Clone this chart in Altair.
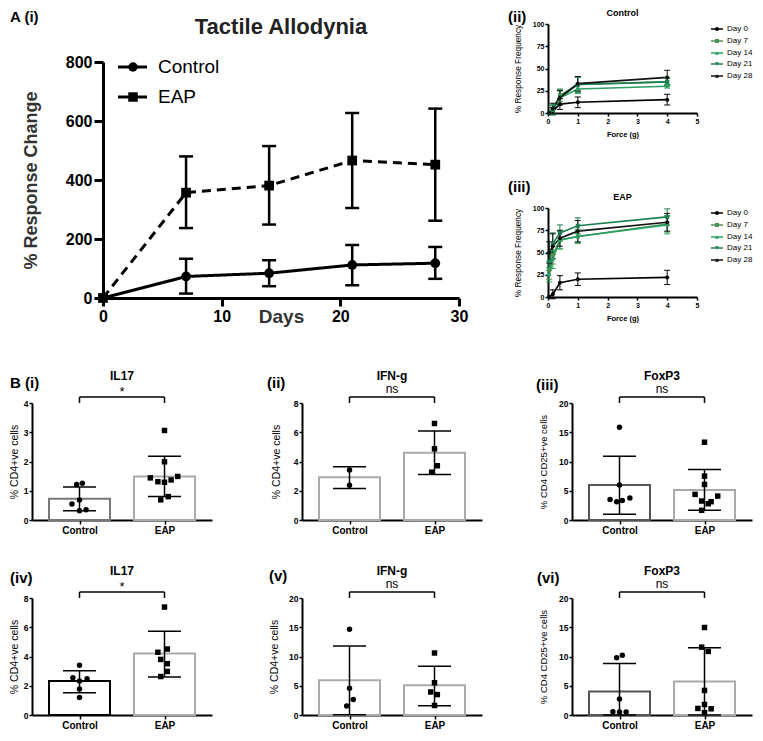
import altair as alt
import pandas as pd

FONT = "Liberation Sans"

# ---------------- A(i) Tactile Allodynia ----------------
DAYS = [0, 7, 14, 21, 28]
GROUPS = ["Control", "EAP"]
CTRL_MEAN = [0, 73, 84, 112, 118]
CTRL_LO = [0, 15, 40, 43, 65]
CTRL_HI = [0, 133, 128, 180, 173]
EAP_MEAN = [0, 357, 381, 466, 452]
EAP_LO = [0, 237, 249, 305, 262]
EAP_HI = [0, 480, 515, 627, 642]

# ---------------- A(ii)/(iii) response frequency ----------------
FORCES = [0.04, 0.16, 0.4, 1, 4]
DAY_LABELS = ["Day 0", "Day 7", "Day 14", "Day 21", "Day 28"]
CTRL_FREQ = [
    [0, 2, 10, 12, 15],
    [0, 4, 20, 32, 35],
    [0, 3, 17, 27, 30],
    [0, 4, 18, 32, 35],
    [0, 5, 17, 33, 40],
]
CTRL_FREQ_ERR = [
    [0, 4, 6, 6, 6],
    [0, 6, 7, 9, 5],
    [0, 5, 8, 5, 2],
    [0, 5, 8, 8, 4],
    [0, 6, 8, 8, 8],
]
EAP_FREQ = [
    [0, 3, 16, 20, 22],
    [30, 47, 64, 68, 82],
    [25, 42, 64, 68, 81],
    [40, 60, 72, 80, 90],
    [50, 57, 66, 74, 84],
]
EAP_FREQ_ERR = [
    [0, 5, 8, 7, 8],
    [10, 10, 10, 8, 9],
    [8, 10, 10, 7, 10],
    [10, 12, 9, 9, 9],
    [12, 14, 9, 12, 10],
]
DAY_COLORS = ["#000000", "#4d9150", "#2ca064", "#1b7f52", "#111111"]
DAY_SHAPES = ["circle", "square", "triangle-up", "triangle-down", "triangle-up"]

# ---------------- B bar panels ----------------
# (mean, lo, hi) for Control and EAP, individual points
P1_CTRL = [0.73, 0.32, 1.13]
P1_EAP = [1.49, 0.80, 2.18]
P1_CTRL_PTS = [1.21, 1.26, 0.55, 0.68, 0.32, 0.35]
P1_EAP_PTS = [3.06, 1.99, 1.44, 1.31, 1.29, 1.37, 1.49, 0.69, 0.80]

P2_CTRL = [2.93, 2.16, 3.64]
P2_EAP = [4.60, 3.11, 6.09]
P2_CTRL_PTS = [3.42, 2.38]
P2_EAP_PTS = [6.60, 4.87, 3.71, 3.27]

P3_CTRL = [5.97, 0.97, 10.9]
P3_EAP = [5.11, 1.65, 8.64]
P3_CTRL_PTS = [15.85, 5.97, 3.52, 3.13, 3.35, 3.75]
P3_EAP_PTS = [13.3, 7.5, 6.08, 4.38, 4.09, 3.24, 3.13, 2.78, 1.65]

P4_CTRL = [2.32, 1.52, 3.03]
P4_EAP = [4.20, 2.59, 5.72]
P4_CTRL_PTS = [3.40, 2.54, 2.48, 2.32, 1.77, 1.19]
P4_EAP_PTS = [7.38, 4.51, 4.29, 3.80, 3.51, 2.98, 2.63]

P5_CTRL = [5.92, 0.05, 11.8]
P5_EAP = [5.07, 1.58, 8.34]
P5_CTRL_PTS = [14.65, 4.56, 2.65, 1.52]
P5_EAP_PTS = [10.6, 5.52, 3.94, 3.49, 1.63]

P6_CTRL = [4.03, 0.0, 8.8]
P6_EAP = [5.71, 0.0, 11.5]
P6_CTRL_PTS = [9.8, 10.2, 2.74, 0.56, 0.5, 0.5]
P6_EAP_PTS = [14.96, 11.6, 10.87, 4.2, 1.79, 1.12, 1.06, 0.4]

# horizontal scatter of the dots (pixels)
P1_JIT = ([-3, 3, -8, 0, 0, 7], [0, 0, -15, -7, 0, 7, 14, -4, 4])
P2_JIT = ([0, 0], [0, 0, 3, -3])
P3_JIT = ([0, 0, -10, -3, 3, 11], [0, 0, 0, -10, 14, -3, 7, 4, -3])
P4_JIT = ([0, -7, 8, 0, 0, 0], [0, 3, -7, -4, 3, 3, -4])
P5_JIT = ([0, 0, 4, -3], [0, 0, -4, 3, 0])
P6_JIT = ([-3, 3, 0, -7, 0, 7], [0, -3, 4, 0, 0, -7, 7, 0])


def dummy():
    return pd.DataFrame({"a": [0]})


def spacer():
    return alt.Chart(dummy()).mark_point(opacity=0, size=0).encode(
        x=alt.value(0), y=alt.value(0)).properties(width=1, height=1)


def cell_rect(x0, x1, y0, y1):
    return alt.Chart(dummy()).mark_rect(opacity=0).encode(
        x=alt.value(x0), x2=alt.value(x1), y=alt.value(y0), y2=alt.value(y1)
    )


def label_text(txt, x, y, size, weight="bold", align="left", baseline="middle", color="black"):
    return alt.Chart(pd.DataFrame({"t": [txt]})).mark_text(
        fontSize=size, fontWeight=weight, align=align, baseline=baseline, color=color
    ).encode(x=alt.value(x), y=alt.value(y), text="t:N")


# ====================== A(i) ======================
def panel_ai():
    W, H = 356, 236
    rows = []
    for g, m, lo, hi in [("Control", CTRL_MEAN, CTRL_LO, CTRL_HI), ("EAP", EAP_MEAN, EAP_LO, EAP_HI)]:
        for d, a, b, c in zip(DAYS, m, lo, hi):
            rows.append({"day": d, "group": g, "mean": a, "lo": b, "hi": c})
    df = pd.DataFrame(rows)
    err = df[df["day"] > 0]

    xax = alt.Axis(values=[0, 10, 20, 30], title="Days", titleY=9, titleFontSize=19,
                   titleFontWeight="bold", labelFontSize=16, labelFontWeight="bold",
                   labelPadding=2, tickSize=8, tickWidth=3, domainWidth=3,
                   domainColor="black", tickColor="black", labelColor="black",
                   titleColor="#333333", grid=False, labelFlush=False)
    yax = alt.Axis(values=[0, 200, 400, 600, 800], title="% Response Change",
                   titleFontSize=18, titleFontWeight="bold", titlePadding=25,
                   labelFontSize=16, labelFontWeight="bold", labelPadding=2,
                   tickSize=9, tickWidth=3, domainWidth=3, domainColor="black",
                   tickColor="black", labelColor="black", titleColor="#333333", grid=False)

    def X(f):
        return alt.X(f"{f}:Q", scale=alt.Scale(domain=[0, 30], nice=False), axis=xax)

    def Y(f):
        return alt.Y(f"{f}:Q", scale=alt.Scale(domain=[0, 800], nice=False), axis=yax)

    dash = alt.StrokeDash("group:N", scale=alt.Scale(domain=GROUPS, range=[[1, 0], [9, 6]]), legend=None)
    shp = alt.Shape("group:N", scale=alt.Scale(domain=GROUPS, range=["circle", "square"]), legend=None)

    lines = alt.Chart(df).mark_line(color="black", strokeWidth=3).encode(
        x=X("day"), y=Y("mean"), strokeDash=dash, detail="group:N")
    rules = alt.Chart(err).mark_rule(color="black", strokeWidth=2.5).encode(
        x=X("day"), y=Y("lo"), y2="hi:Q")
    cap_lo = alt.Chart(err).mark_tick(orient="horizontal", size=14, thickness=2.5,
                                      color="black", opacity=1).encode(x=X("day"), y=Y("lo"))
    cap_hi = alt.Chart(err).mark_tick(orient="horizontal", size=14, thickness=2.5,
                                      color="black", opacity=1).encode(x=X("day"), y=Y("hi"))
    pts = alt.Chart(df).mark_point(filled=True, size=95, color="black", opacity=1).encode(
        x=X("day"), y=Y("mean"), shape=shp)

    layers = [lines, rules, cap_lo, cap_hi, pts]
    # legend
    for i, (g, s) in enumerate(zip(GROUPS, ["circle", "square"])):
        yy = 5 + 30 * i
        layers.append(alt.Chart(dummy()).mark_rule(color="black", strokeWidth=3).encode(
            x=alt.value(15), x2=alt.value(44), y=alt.value(yy)))
        layers.append(alt.Chart(dummy()).mark_point(shape=s, filled=True, size=90,
                                                     color="black", opacity=1).encode(
            x=alt.value(30), y=alt.value(yy)))
        layers.append(label_text(g, 55, yy, 19, weight="normal"))
    layers.append(label_text("Tactile Allodynia", W / 2, -35, 22, align="center", color="#222222"))
    layers.append(label_text("A (i)", -93, -52, 15, baseline="top"))
    layers.append(cell_rect(-94, 387, -53, 283))
    return alt.layer(*layers).properties(width=W, height=H)


# ====================== A(ii)/(iii) ======================
def panel_force(title, label, label_dx, label_dy, means, errs, rect):
    W, H = 149, 89
    rows = []
    for di, dl in enumerate(DAY_LABELS):
        for f, m, e in zip(FORCES, means[di], errs[di]):
            rows.append({"force": f, "day": dl, "mean": m, "lo": m - e, "hi": m + e, "e": e})
    df = pd.DataFrame(rows)
    err = df[df["e"] > 0]

    xax = alt.Axis(values=[0, 1, 2, 3, 4, 5], title="Force (g)", titleFontSize=7.5,
                   titleFontWeight="bold", titlePadding=6, labelFontSize=7,
                   labelFontWeight="bold", labelPadding=1, tickSize=3, tickWidth=1.5,
                   domainWidth=2, domainColor="black", tickColor="black",
                   labelColor="black", titleColor="black", grid=False, labelFlush=False)
    yax = alt.Axis(values=[0, 25, 50, 75, 100], title="% Response Frequency",
                   titleFontSize=8.3, titleFontWeight="normal", titlePadding=10,
                   labelFontSize=7, labelFontWeight="bold", labelPadding=1, tickSize=3,
                   tickWidth=1.5, domainWidth=2, domainColor="black", tickColor="black",
                   labelColor="black", titleColor="black", grid=False)

    def X(f):
        return alt.X(f"{f}:Q", scale=alt.Scale(domain=[0, 5], nice=False), axis=xax)

    def Y(f):
        return alt.Y(f"{f}:Q", scale=alt.Scale(domain=[0, 100], nice=False), axis=yax)

    col = alt.Color("day:N", scale=alt.Scale(domain=DAY_LABELS, range=DAY_COLORS), legend=None)
    shp = alt.Shape("day:N", scale=alt.Scale(domain=DAY_LABELS, range=DAY_SHAPES), legend=None)

    lines = alt.Chart(df).mark_line(strokeWidth=1.6).encode(x=X("force"), y=Y("mean"), color=col, detail="day:N")
    rules = alt.Chart(err).mark_rule(strokeWidth=1).encode(x=X("force"), y=Y("lo"), y2="hi:Q", color=col)
    cap_lo = alt.Chart(err).mark_tick(orient="horizontal", size=6, thickness=1, opacity=1).encode(
        x=X("force"), y=Y("lo"), color=col)
    cap_hi = alt.Chart(err).mark_tick(orient="horizontal", size=6, thickness=1, opacity=1).encode(
        x=X("force"), y=Y("hi"), color=col)
    pts = alt.Chart(df).mark_point(filled=True, size=16, opacity=1).encode(
        x=X("force"), y=Y("mean"), color=col, shape=shp)
    layers = [lines, rules, cap_lo, cap_hi, pts]

    ROW_Y = [5, 17, 29, 40, 52]
    for dl, c, s, yy in zip(DAY_LABELS, DAY_COLORS, DAY_SHAPES, ROW_Y):
        layers.append(alt.Chart(dummy()).mark_rule(color=c, strokeWidth=1.5).encode(
            x=alt.value(163), x2=alt.value(175), y=alt.value(yy)))
        layers.append(alt.Chart(dummy()).mark_point(shape=s, filled=True, size=16, color=c,
                                                     opacity=1).encode(x=alt.value(169), y=alt.value(yy)))
        layers.append(label_text(dl, 179, yy, 8, weight="normal"))
    layers.append(label_text(title, W / 2, -11, 9, align="center"))
    layers.append(label_text(label, label_dx, label_dy, 15, baseline="top"))
    layers.append(cell_rect(*rect))
    return alt.layer(*layers).properties(width=W, height=H)


# ====================== B bar panels ======================
def panel_bar(title, sig, label, label_dx, label_dy, ctrl, eap, ctrl_pts, eap_pts, jit,
              ymax, yticks, ytitle, ytitle_size, tpad, edges, rect):
    W, H = 180, 117
    unit = W / 2.0
    bars = pd.DataFrame({"g": [0, 1], "mean": [ctrl[0], eap[0]], "lo": [ctrl[1], eap[1]],
                         "hi": [ctrl[2], eap[2]], "edge": edges})
    pts = pd.DataFrame({
        "x": [0 + j / unit for j in jit[0]] + [1 + j / unit for j in jit[1]],
        "v": ctrl_pts + eap_pts,
        "grp": ["Control"] * len(ctrl_pts) + ["EAP"] * len(eap_pts),
    })
    xax = alt.Axis(values=[0, 1], labelExpr="datum.value == 0 ? 'Control' : 'EAP'", title=None,
                   labelFontSize=10, labelFontWeight="bold", labelPadding=1, tickSize=4,
                   tickWidth=1.5, domainWidth=2, domainColor="black", tickColor="black",
                   labelColor="black", grid=False)
    yax = alt.Axis(values=yticks, title=ytitle, titleFontSize=ytitle_size, titleFontWeight="normal",
                   titlePadding=tpad, labelFontSize=8.5, labelFontWeight="bold", labelPadding=1,
                   tickSize=3, tickWidth=1.5, domainWidth=2, domainColor="black",
                   tickColor="black", labelColor="black", titleColor="black", grid=False)

    def X(f):
        return alt.X(f"{f}:Q", scale=alt.Scale(domain=[-0.5, 1.5], nice=False, zero=False), axis=xax)

    def Y(f):
        return alt.Y(f"{f}:Q", scale=alt.Scale(domain=[0, ymax], nice=False), axis=yax)

    shp = alt.Shape("grp:N", scale=alt.Scale(domain=GROUPS, range=["circle", "square"]), legend=None)
    bar = alt.Chart(bars).mark_bar(size=61, fill="white", strokeWidth=2, orient="vertical").encode(
        x=X("g"), y=Y("mean"), stroke=alt.Stroke("edge:N", scale=None))
    dots = alt.Chart(pts).mark_point(filled=True, size=30, color="black", opacity=1).encode(
        x=X("x"), y=Y("v"), shape=shp)
    rule = alt.Chart(bars).mark_rule(color="black", strokeWidth=1.5).encode(x=X("g"), y=Y("lo"), y2="hi:Q")
    cap_lo = alt.Chart(bars).mark_tick(orient="horizontal", size=33, thickness=1.5, color="black",
                                       opacity=1).encode(x=X("g"), y=Y("lo"))
    cap_hi = alt.Chart(bars).mark_tick(orient="horizontal", size=33, thickness=1.5, color="black",
                                       opacity=1).encode(x=X("g"), y=Y("hi"))
    br_h = alt.Chart(dummy()).mark_rule(color="black", strokeWidth=1.5).encode(
        x=alt.datum(0), x2=alt.datum(1), y=alt.value(-6))
    br_v = alt.Chart(bars).mark_rule(color="black", strokeWidth=1.5).encode(
        x=X("g"), y=alt.value(-6), y2=alt.value(0))
    layers = [bar, dots, rule, cap_lo, cap_hi, br_h, br_v]
    layers.append(label_text(title, W / 2, -27, 12, align="center"))
    if sig == "*":
        layers.append(label_text(sig, W / 2, -11, 13, weight="normal", align="center"))
    else:
        layers.append(label_text(sig, W / 2, -14, 12, weight="normal", align="center"))
    layers.append(label_text(label, label_dx, label_dy, 15))
    layers.append(cell_rect(*rect))
    return alt.layer(*layers).properties(width=W, height=H)


EDGE_P1 = ["#777777", "#aaaaaa"]
EDGE_P2 = ["#aaaaaa", "#aaaaaa"]
EDGE_P3 = ["#555555", "#aaaaaa"]
EDGE_P4 = ["#000000", "#aaaaaa"]
EDGE_P5 = ["#aaaaaa", "#aaaaaa"]
EDGE_P6 = ["#555555", "#aaaaaa"]

CD4 = "% CD4+ve cells"
CD25 = "% CD4 CD25+ve cells"

ai = panel_ai()
ii = panel_force("Control", "(ii)", -40, -14, CTRL_FREQ, CTRL_FREQ_ERR, (-58, 207, -15, 137))
iii = panel_force("EAP", "(iii)", -40, -28, EAP_FREQ, EAP_FREQ_ERR, (-58, 207, -47, 137))

p1 = panel_bar("IL17", "*", "B (i)", -22, -20, P1_CTRL, P1_EAP, P1_CTRL_PTS, P1_EAP_PTS, P1_JIT,
               4, [0, 1, 2, 3, 4], CD4, 10.5, 4, EDGE_P1, (-23, 208, -58, 147))
p2 = panel_bar("IFN-g", "ns", "(ii)", -35, -20, P2_CTRL, P2_EAP, P2_CTRL_PTS, P2_EAP_PTS, P2_JIT,
               8, [0, 2, 4, 6, 8], CD4, 10.5, 12, EDGE_P2, (-62, 208, -58, 147))
p3 = panel_bar("FoxP3", "ns", "(iii)", -36, -18, P3_CTRL, P3_EAP, P3_CTRL_PTS, P3_EAP_PTS, P3_JIT,
               20, [0, 5, 10, 15, 20], CD25, 9.5, 10, EDGE_P3, (-62, 183, -58, 147))
p4 = panel_bar("IL17", "*", "(iv)", -22, -20, P4_CTRL, P4_EAP, P4_CTRL_PTS, P4_EAP_PTS, P4_JIT,
               8, [0, 2, 4, 6, 8], CD4, 10.5, 4, EDGE_P4, (-23, 208, -48, 135))
p5 = panel_bar("IFN-g", "ns", "(v)", -33, -22, P5_CTRL, P5_EAP, P5_CTRL_PTS, P5_EAP_PTS, P5_JIT,
               20, [0, 5, 10, 15, 20], CD4, 10.5, 9, EDGE_P5, (-62, 208, -48, 135))
p6 = panel_bar("FoxP3", "ns", "(vi)", -35, -20, P6_CTRL, P6_EAP, P6_CTRL_PTS, P6_EAP_PTS, P6_JIT,
               20, [0, 5, 10, 15, 20], CD25, 9.5, 10, EDGE_P6, (-62, 183, -48, 135))

# every row / column starts with an invisible 1px anchor so each block's origin is its corner
leftcol = alt.vconcat(spacer(), ai, spacing=0)
rightcol = alt.vconcat(spacer(), ii, iii, spacing=0)
top = alt.hconcat(spacer(), leftcol, rightcol, spacing=0)
row1 = alt.hconcat(spacer(), p1, p2, p3, spacing=0)
row2 = alt.hconcat(spacer(), p4, p5, p6, spacing=0)

chart = (
    alt.vconcat(top, row1, row2, spacing=0)
    .properties(padding=0)
    .configure(font=FONT)
    .configure_view(stroke=None)
)

chart.save("out.html", embed_options={"renderer": "svg", "actions": False})
